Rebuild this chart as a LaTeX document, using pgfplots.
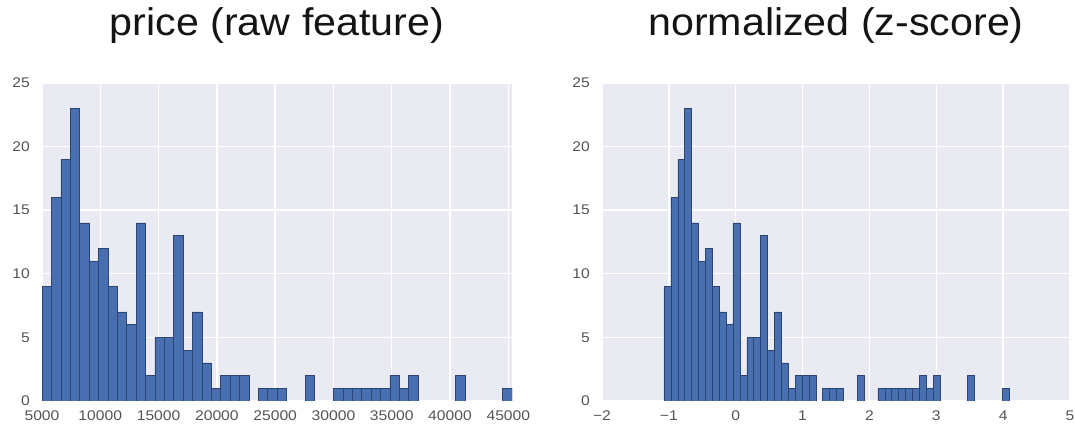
\documentclass[border=0pt]{standalone}
\usepackage{pgfplots}
\pgfplotsset{compat=1.18}
\usepackage{pgfplotstable}
\usepackage{fontspec}
\setmainfont{Liberation Sans}
\newfontfamily\tickfont[FakeStretch=1.12]{Liberation Sans}
\newfontfamily\titlefont[FakeStretch=1.07]{Liberation Sans}
\definecolor{bg}{HTML}{EAEAF2}
\definecolor{barfill}{HTML}{4A6FB0}
\definecolor{baredge}{HTML}{2B4470}
\definecolor{ticktxt}{HTML}{555555}

\pgfplotstableread{
x z c
5000 -1.073 9
5806.3 -0.9698 16
6612.6 -0.8666 19
7418.9 -0.7634 23
8225.2 -0.6602 14
9031.5 -0.557 11
9837.8 -0.4538 12
10644.1 -0.3506 9
11450.4 -0.2474 7
12256.7 -0.1442 6
13063 -0.041 14
13869.3 0.0622 2
14675.6 0.1654 5
15481.9 0.2686 5
16288.2 0.3718 13
17094.5 0.475 4
17900.8 0.5782 7
18707.1 0.6814 3
19513.4 0.7846 1
20319.7 0.8878 2
21126 0.991 2
21932.3 1.0942 2
22738.6 1.1974 0
23544.9 1.3006 1
24351.2 1.4038 1
25157.5 1.507 1
25963.8 1.6102 0
26770.1 1.7134 0
27576.4 1.8166 2
28382.7 1.9198 0
29189 2.023 0
29995.3 2.1262 1
30801.6 2.2294 1
31607.9 2.3326 1
32414.2 2.4358 1
33220.5 2.539 1
34026.8 2.6422 1
34833.1 2.7454 2
35639.4 2.8486 1
36445.7 2.9518 2
37252 3.055 0
38058.3 3.1582 0
38864.6 3.2614 0
39670.9 3.3646 0
40477.2 3.4678 2
41283.5 3.571 0
42089.8 3.6742 0
42896.1 3.7774 0
43702.4 3.8806 0
44508.7 3.9838 1
45315 4.087 0
}\hist

\pgfplotsset{histax/.style={
  scale only axis, height=318bp,
  ymin=0, ymax=25, ytick={0,5,...,25},
  axis background/.style={fill=bg},
  grid=major, major grid style={draw=white, line width=1.4bp},
  axis line style={draw=none}, major tick length=0pt,
  tick label style={font=\tickfont\fontsize{14bp}{15bp}\selectfont, text=ticktxt, inner sep=0pt},
  yticklabel style={xshift=-12bp},
  xticklabel style={yshift=-10bp},
  /pgf/number format/assume math mode=true,
  /pgf/number format/set thousands separator={},
  scaled x ticks=false,
  title style={font=\titlefont\fontsize{38.5bp}{42bp}\selectfont, text={rgb,255:red,20;green,20;blue,20}, anchor=base, at={(0.5,1)}, yshift=42bp},
}}

\begin{document}
\begin{tikzpicture}
\useasboundingbox (0,0) rectangle (1075bp,425bp);
\begin{axis}[histax, at={(42bp,24bp)}, anchor=south west, width=470bp,
  xmin=5000, xmax=45315, xtick={5000,10000,...,45000},
  title={price (raw feature)}]
\addplot[ybar interval, fill=barfill, draw=baredge, line width=0.5bp] table[x=x, y=c] {\hist};
\end{axis}
\begin{axis}[histax, at={(602bp,24bp)}, anchor=south west, width=468bp,
  xmin=-2, xmax=5, xtick={-2,-1,0,1,2,3,4,5},
  xticklabels={−2,−1,0,1,2,3,4,5},
  title={normalized (z-score)}]
\addplot[ybar interval, fill=barfill, draw=baredge, line width=0.5bp] table[x=z, y=c] {\hist};
\end{axis}
\end{tikzpicture}
\end{document}
